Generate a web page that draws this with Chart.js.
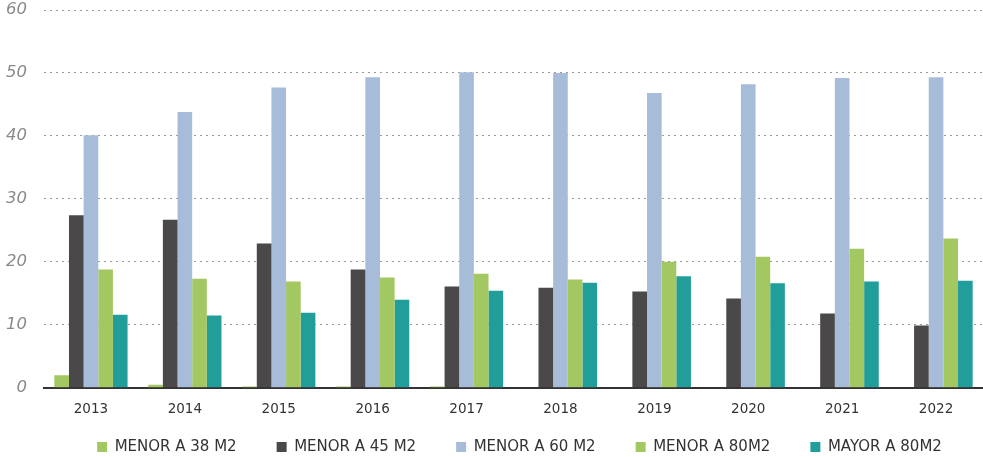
<!DOCTYPE html>
<html>
<head>
<meta charset="utf-8">
<script src="https://cdn.jsdelivr.net/npm/chart.js@4/dist/chart.umd.min.js"></script>
<style>
  html, body { margin: 0; padding: 0; background: #fff; }
  #wrap { width: 983px; height: 457px; position: relative; }
</style>
</head>
<body>
<div id="wrap"><canvas id="myChart"></canvas></div>
<script>
'use strict';

// años
const years = ['2013', '2014', '2015', '2016', '2017', '2018', '2019', '2020', '2021', '2022'];

// series
const menor38 = [2.0, 0.5, 0.2, 0.2, 0.2, 0.0, 0.0, 0.0, 0.0, 0.0];
const menor45 = [27.4, 26.7, 22.9, 18.8, 16.1, 15.9, 15.3, 14.2, 11.8, 9.9];
const menor60 = [40.1, 43.8, 47.7, 49.3, 50.1, 50.0, 46.8, 48.2, 49.2, 49.3];
const menor80 = [18.8, 17.3, 16.9, 17.5, 18.1, 17.2, 20.0, 20.8, 22.1, 23.7];
const mayor80 = [11.6, 11.5, 11.9, 14.0, 15.4, 16.7, 17.7, 16.6, 16.9, 17.0];

const seriesNames = ['MENOR A 38 M2', 'MENOR A 45 M2', 'MENOR A 60 M2', 'MENOR A 80M2', 'MAYOR A 80M2'];
const colors = ['#a3c862', '#4a4849', '#a7bcd8', '#a3c862', '#229e9a'];

const allSeries = [menor38, menor45, menor60, menor80, mayor80];
const datasets = allSeries.map(function (d, i) {
  return {
    label: seriesNames[i],
    data: d,
    backgroundColor: colors[i],
    borderWidth: 0,
    barPercentage: 1.0,
    categoryPercentage: 0.78
  };
});

const LEGEND_H = 33;      // alto reservado para la leyenda
const LEGEND_Y = 448;     // centro vertical de los items
const LEGEND_DX = 28;     // desplazamiento horizontal

// la leyenda usa un padding grande en horizontal; se corrige su alto y posición
const legendFix = {
  id: 'legendFix',
  beforeLayout: function (chart) {
    const lg = chart.legend;
    if (lg && !lg._fitPatched) {
      const origFit = lg.fit;
      lg.fit = function () {
        origFit.call(this);
        this.height = LEGEND_H;
      };
      lg._fitPatched = true;
    }
  },
  afterLayout: function (chart) {
    const lg = chart.legend;
    if (!lg) return;
    const pad = lg.options.labels.padding;
    const itemH = lg._itemHeight || 17;
    lg.top = LEGEND_Y - pad - itemH / 2;
    lg.bottom = chart.height;
    lg.left += LEGEND_DX;
    lg.right += LEGEND_DX;
  }
};

new Chart(document.getElementById('myChart'), {
  type: 'bar',
  data: { labels: years, datasets: datasets },
  plugins: [legendFix],
  options: {
    responsive: true,
    maintainAspectRatio: false,
    animation: false,
    layout: { padding: { top: 10, right: 0, left: 0, bottom: 0 } },
    plugins: {
      tooltip: { enabled: false },
      legend: {
        position: 'bottom',
        labels: {
          boxWidth: 10,
          boxHeight: 10,
          padding: 40,
          color: '#333',
          font: { family: '"DejaVu Sans", sans-serif', size: 15 }
        }
      }
    },
    scales: {
      x: {
        grid: { display: false },
        border: { display: true, color: '#333', width: 2 },
        ticks: {
          color: '#333',
          padding: 6,
          font: { family: '"DejaVu Sans", sans-serif', size: 13.5 }
        }
      },
      y: {
        min: 0,
        max: 60,
        afterFit: function (scale) {
          scale.paddingTop = 0;
          scale.width = 44;
        },
        ticks: {
          stepSize: 10,
          padding: 17,
          color: '#8a8a8a',
          font: { family: '"DejaVu Sans", sans-serif', size: 16.5, style: 'italic' }
        },
        border: { display: false, dash: [2, 4] },
        grid: { color: '#999', lineWidth: 1, drawTicks: false }
      }
    }
  }
});
</script>
</body>
</html>
